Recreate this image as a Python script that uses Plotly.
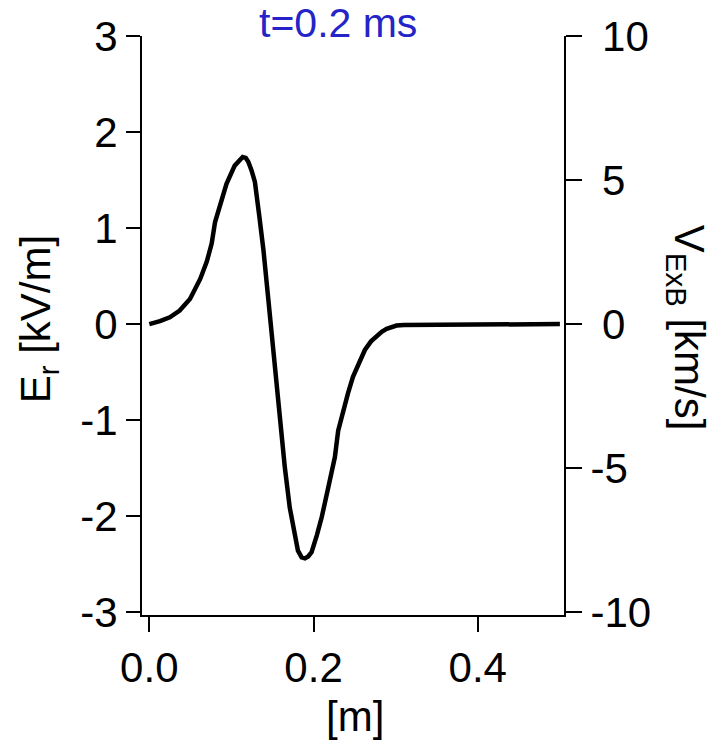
import plotly.graph_objects as go

# Radial position [m]
r_m = [0.0, 0.013, 0.025, 0.037, 0.0495, 0.062, 0.070, 0.076, 0.080, 0.087, 0.094,
       0.104, 0.1095, 0.1137, 0.1175, 0.1205, 0.1245, 0.1286, 0.134, 0.139, 0.145,
       0.149, 0.154, 0.159, 0.165, 0.171, 0.177, 0.181, 0.1855, 0.1895, 0.1935,
       0.1976, 0.204, 0.210, 0.218, 0.226, 0.230, 0.236, 0.242, 0.248, 0.255,
       0.2625, 0.270, 0.277, 0.283, 0.289, 0.295, 0.301, 0.310, 0.317, 0.321,
       0.35, 0.40, 0.45, 0.50]
# Radial electric field E_r [kV/m]
er_kvm = [0.0, 0.03, 0.07, 0.14, 0.26, 0.47, 0.65, 0.84, 1.06, 1.27, 1.46,
          1.65, 1.71, 1.74, 1.73, 1.69, 1.60, 1.48, 1.12, 0.77, 0.25,
          -0.10, -0.58, -1.07, -1.49, -1.91, -2.18, -2.36, -2.43, -2.44, -2.42,
          -2.375, -2.20, -2.01, -1.70, -1.385, -1.11, -0.90, -0.72, -0.55, -0.40,
          -0.27, -0.18, -0.12, -0.08, -0.05, -0.03, -0.015, -0.01, -0.01, 0.0,
          0.0, 0.0, 0.0, 0.0]

left_ticks = [-3, -2, -1, 0, 1, 2, 3]
left_ticktext = ["-3", "-2", "-1", "0", "1", "2", "3"]
right_ticks = [-10, -5, 0, 5, 10]
right_ticktext = ["-10", "-5", "\u00a00", "\u00a05", "\u00a010"]
x_ticks = [0.0, 0.2, 0.4]
x_ticktext = ["0.0", "0.2", "0.4"]

FONT = "Liberation Sans, Arial, sans-serif"

fig = go.Figure()
fig.add_trace(go.Scatter(x=r_m, y=er_kvm, mode="lines",
                         line=dict(color="black", width=4.5), showlegend=False))
# invisible trace to activate the right axis
fig.add_trace(go.Scatter(x=[0.0], y=[0.0], yaxis="y2", mode="markers",
                         marker=dict(opacity=0), showlegend=False, hoverinfo="skip"))

axis_common = dict(showgrid=False, zeroline=False, showline=True, linecolor="black",
                   linewidth=2, ticks="outside", tickcolor="black", tickwidth=2,
                   tickfont=dict(family=FONT, size=42, color="black"))

fig.update_layout(
    width=716, height=740,
    margin=dict(l=142, r=152, t=36, b=125),
    paper_bgcolor="white", plot_bgcolor="white",
    xaxis=dict(range=[-0.0089, 0.505], tickvals=x_ticks, ticktext=x_ticktext,
               ticklen=15, **axis_common),
    yaxis=dict(range=[-3.03, 3.0], tickvals=left_ticks, ticktext=left_ticktext,
               ticklen=14, **axis_common),
    yaxis2=dict(range=[-10.1, 10.0], tickvals=right_ticks, ticktext=right_ticktext,
                overlaying="y", side="right", ticklen=16, **axis_common),
    annotations=[
        dict(text="t=0.2 ms", x=0.464, y=1.022, xref="paper", yref="paper",
             showarrow=False, xanchor="center", yanchor="middle",
             font=dict(family=FONT, size=41, color="#2424c8")),
        dict(text="E<sub>r</sub> [kV/m]", x=-0.246, y=0.511, xref="paper", yref="paper",
             showarrow=False, xanchor="center", yanchor="middle", textangle=-90,
             font=dict(family=FONT, size=42, color="black")),
        dict(text="V<sub>ExB</sub> [km/s]", x=1.289, y=0.496, xref="paper", yref="paper",
             showarrow=False, xanchor="center", yanchor="middle", textangle=90,
             font=dict(family=FONT, size=42, color="black")),
        dict(text="[m]", x=0.505, y=-0.176, xref="paper", yref="paper",
             showarrow=False, xanchor="center", yanchor="middle",
             font=dict(family=FONT, size=42, color="black")),
    ],
)

fig.write_html("out.html", config={"displayModeBar": False},
               post_script="document.body.style.margin='0';")
